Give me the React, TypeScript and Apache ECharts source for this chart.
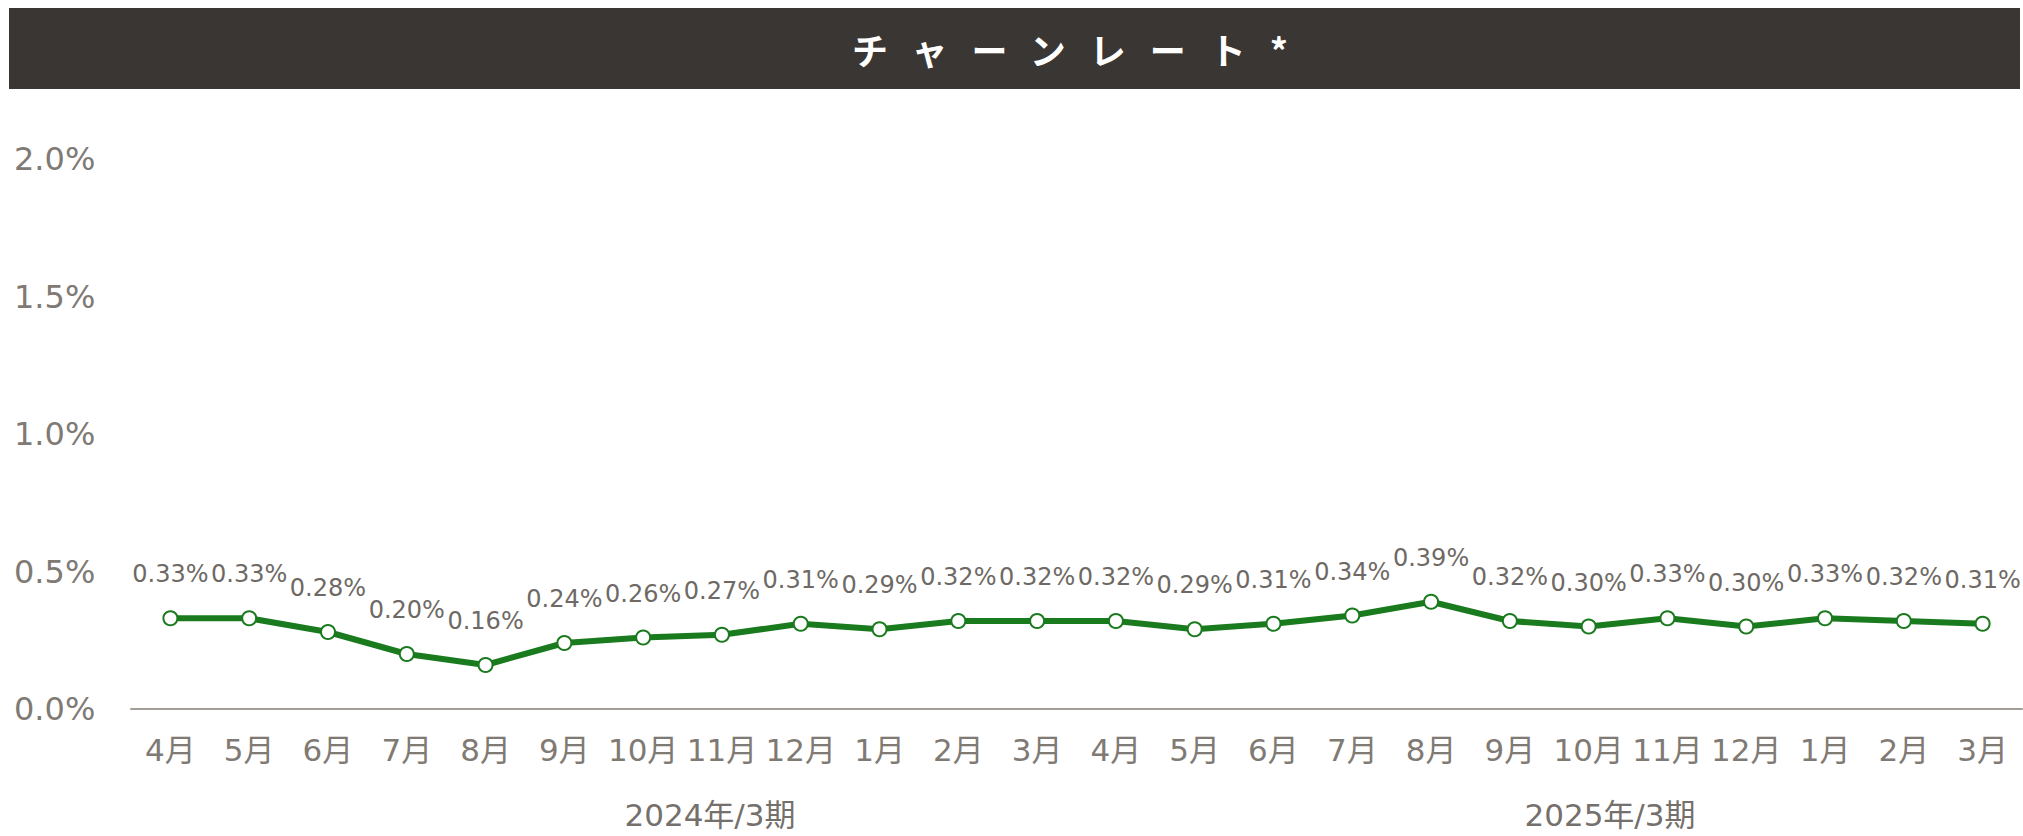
import React, { useEffect, useRef } from "react";
import * as echarts from "echarts";

const TITLE = "チャーンレート*";
const months = [
  "4月", "5月", "6月", "7月", "8月", "9月", "10月", "11月", "12月", "1月", "2月", "3月",
  "4月", "5月", "6月", "7月", "8月", "9月", "10月", "11月", "12月", "1月", "2月", "3月",
];
const rates = [
  0.33, 0.33, 0.28, 0.2, 0.16, 0.24, 0.26, 0.27, 0.31, 0.29, 0.32, 0.32,
  0.32, 0.29, 0.31, 0.34, 0.39, 0.32, 0.3, 0.33, 0.3, 0.33, 0.32, 0.31,
];
const fiscalGroups = ["2024年/3期", "2025年/3期"];
const yMax = 2.0;
const yInterval = 0.5;

const LATIN = '"DejaVu Sans", "Noto Sans CJK JP", sans-serif';
const CJK = '"Noto Sans CJK JP", "DejaVu Sans", sans-serif';
const GREEN = "#1a7a1e";
const LABEL_GRAY = "#7f7a74";
const DARK_GRAY = "#6e6964";

export default function App() {
  const ref = useRef<HTMLDivElement>(null);
  useEffect(() => {
    document.body.style.margin = "0";
    const el = ref.current!;
    const chart = echarts.init(el, null, { renderer: "svg", width: 2023, height: 836 });
    chart.setOption({
      animation: false,
      backgroundColor: "#ffffff",
      grid: { left: 131, right: 1, top: 159, bottom: 127, containLabel: false },
      xAxis: {
        type: "category",
        data: months,
        boundaryGap: true,
        axisLine: { show: true, lineStyle: { color: "#a39e98", width: 2 } },
        axisTick: { show: false },
        axisLabel: { color: LABEL_GRAY, fontSize: 31, margin: 25, fontFamily: LATIN, interval: 0 },
        splitLine: { show: false },
      },
      yAxis: {
        type: "value",
        min: 0,
        max: yMax,
        interval: yInterval,
        axisLine: { show: false },
        axisTick: { show: false },
        splitLine: { show: false },
        axisLabel: {
          color: LABEL_GRAY,
          fontSize: 32,
          fontFamily: LATIN,
          align: "left",
          margin: 117,
          padding: [0, 0, 12, 0],
          formatter: (v: number) => v.toFixed(1) + "%",
        },
      },
      series: [
        {
          type: "line",
          data: rates,
          symbol: "circle",
          symbolSize: 14,
          lineStyle: { color: GREEN, width: 6 },
          itemStyle: { color: "#ffffff", borderColor: GREEN, borderWidth: 2 },
          label: {
            show: true,
            position: "top",
            distance: 24,
            color: DARK_GRAY,
            fontSize: 24,
            fontFamily: LATIN,
            formatter: (p: any) => Number(p.value).toFixed(2) + "%",
          },
          emphasis: { disabled: true },
          z: 3,
        },
      ],
      graphic: [
        {
          type: "rect",
          shape: { x: 9, y: 8, width: 2011, height: 81 },
          style: { fill: "#3a3633" },
          silent: true,
        },
        {
          type: "text",
          x: 1082,
          y: 49,
          style: {
            text: TITLE,
            fill: "#ffffff",
            fontSize: 36,
            fontWeight: "bold",
            fontFamily: CJK,
            align: "center",
            verticalAlign: "middle",
          },
          silent: true,
        },
        {
          type: "text",
          x: 710,
          y: 815,
          style: {
            text: fiscalGroups[0],
            fill: "#75706b",
            fontSize: 31,
            fontFamily: LATIN,
            align: "center",
            verticalAlign: "middle",
          },
          silent: true,
        },
        {
          type: "text",
          x: 1610,
          y: 815,
          style: {
            text: fiscalGroups[1],
            fill: "#75706b",
            fontSize: 31,
            fontFamily: LATIN,
            align: "center",
            verticalAlign: "middle",
          },
          silent: true,
        },
      ],
    });
    el.querySelectorAll("text").forEach((t) => {
      if (t.textContent === TITLE) t.setAttribute("letter-spacing", "24");
    });
    return () => chart.dispose();
  }, []);
  return (
    <div
      ref={ref}
      style={{ position: "absolute", left: 0, top: 0, width: 2023, height: 836 }}
    />
  );
}
